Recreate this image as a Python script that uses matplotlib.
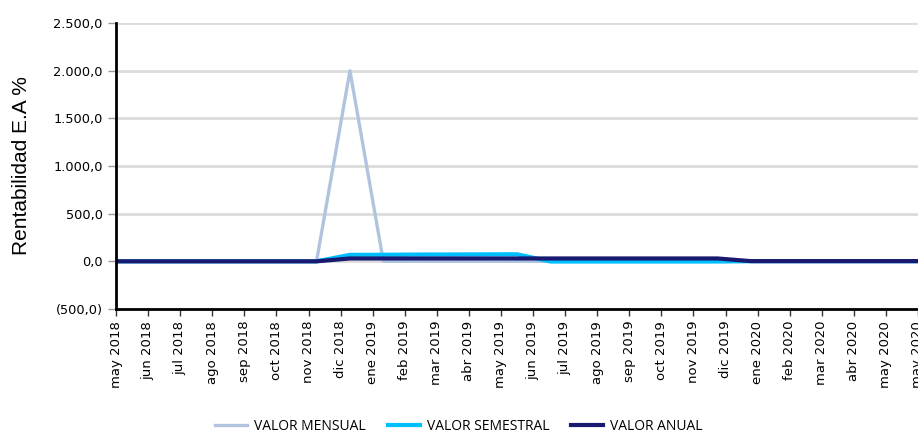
import matplotlib.pyplot as plt
from matplotlib.ticker import FuncFormatter

# etiquetas del eje x (mensuales)
meses = ['may 2018', 'jun 2018', 'jul 2018', 'ago 2018', 'sep 2018', 'oct 2018',
         'nov 2018', 'dic 2018', 'ene 2019', 'feb 2019', 'mar 2019', 'abr 2019',
         'may 2019', 'jun 2019', 'jul 2019', 'ago 2019', 'sep 2019', 'oct 2019',
         'nov 2019', 'dic 2019', 'ene 2020', 'feb 2020', 'mar 2020', 'abr 2020',
         'may 2020', 'may 2020']

# series
valor_mensual = [0, 0, 0, 0, 0, 0, 0, 2000, 0, 0, 0, 0, 0,
                 0, 0, 0, 0, 0, 0, 0, 0, 0, 0, 0, 0]
valor_semestral = [0, 0, 0, 0, 0, 0, 0, 68, 69, 71, 72, 73, 74,
                   -2, -2, -2, -2, -2, -2, 1, 1, 1, 1, 1, 1]
valor_anual = [0, 0, 0, 0, 0, 0, 0, 30, 30, 30, 30, 30, 30,
               30, 30, 30, 30, 30, 30, 2, 2, 2, 2, 2, 2]

y_ticks = [-500, 0, 500, 1000, 1500, 2000, 2500]


def formato(v, pos):
    s = f'{abs(v):,.1f}'.replace(',', 'X').replace('.', ',').replace('X', '.')
    return f'({s})' if v < 0 else s


fig = plt.figure(figsize=(9.18, 4.37), dpi=100)
ax = fig.add_axes([0.1264, 0.293, 0.8736, 0.654])

n = len(valor_mensual)
x = list(range(n))
ax.plot(x, valor_mensual, color='#b0c4de', lw=2.4, label='VALOR MENSUAL')
ax.plot(x, valor_semestral, color='#00bfff', lw=3, label='VALOR SEMESTRAL')
ax.plot(x, valor_anual, color='#191970', lw=3, label='VALOR ANUAL')

# ticks del eje x repartidos en todo el ancho
pos = [i * (n - 1) / (len(meses) - 1) for i in range(len(meses))]
ax.set_xticks(pos)
ax.set_xticklabels(meses, rotation=90, fontsize=9.5, family='DejaVu Sans')
ax.set_xlim(0, n - 1)

ax.set_ylim(-500, 2500)
ax.set_yticks(y_ticks)
ax.yaxis.set_major_formatter(FuncFormatter(formato))
ax.tick_params(axis='y', labelsize=9.3, colors='#999999', labelcolor='black',
               length=6, width=1)
ax.tick_params(axis='x', length=5, width=1, color='#333333')
ax.grid(axis='y', color='#dcdcdc', lw=2)
ax.set_axisbelow(True)

for lado in ['top', 'right']:
    ax.spines[lado].set_visible(False)
ax.spines['left'].set_linewidth(2)
ax.spines['bottom'].set_linewidth(2)

ax.set_ylabel('Rentabilidad E.A %', fontsize=15, family='Liberation Sans', labelpad=16)

fig.legend(loc='lower center', bbox_to_anchor=(0.5, -0.022), ncol=3, frameon=False,
           prop={'family': 'Open Sans', 'size': 10}, handlelength=2.3,
           handletextpad=0.5, columnspacing=1.6)

fig.savefig('out.png', dpi=100)
